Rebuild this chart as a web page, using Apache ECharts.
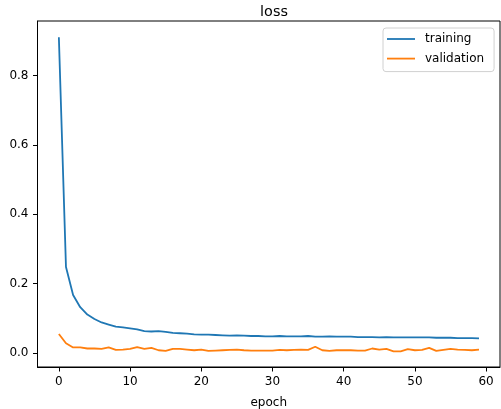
<!DOCTYPE html>
<html>
<head>
<meta charset="utf-8">
<script src="https://cdn.jsdelivr.net/npm/echarts@6/dist/echarts.min.js"></script>
<style>html,body{margin:0;padding:0;background:#fff}#c{width:501px;height:409px}</style>
</head>
<body>
<div id="c"></div>
<script>
const epochs = Array.from({length: 60}, (_, i) => i);
const training = [0.910, 0.248, 0.167, 0.132, 0.111, 0.098, 0.088, 0.082, 0.076, 0.074,
  0.071, 0.068, 0.063, 0.062, 0.063, 0.061, 0.058, 0.057, 0.056, 0.054,
  0.053, 0.053, 0.052, 0.051, 0.050, 0.051, 0.050, 0.049, 0.049, 0.048,
  0.048, 0.049, 0.048, 0.048, 0.048, 0.049, 0.047, 0.047, 0.048, 0.047,
  0.047, 0.047, 0.046, 0.046, 0.046, 0.045, 0.046, 0.045, 0.045, 0.045,
  0.045, 0.045, 0.045, 0.044, 0.044, 0.044, 0.043, 0.043, 0.043, 0.042];
const validation = [0.055, 0.028, 0.016, 0.016, 0.013, 0.013, 0.012, 0.016, 0.009, 0.010,
  0.012, 0.017, 0.012, 0.015, 0.008, 0.006, 0.012, 0.012, 0.010, 0.008,
  0.010, 0.006, 0.007, 0.008, 0.009, 0.010, 0.008, 0.007, 0.007, 0.007,
  0.007, 0.009, 0.008, 0.009, 0.010, 0.009, 0.018, 0.008, 0.006, 0.008,
  0.008, 0.008, 0.007, 0.007, 0.013, 0.010, 0.012, 0.005, 0.005, 0.011,
  0.008, 0.009, 0.015, 0.006, 0.009, 0.012, 0.010, 0.009, 0.008, 0.010];
const xTicks = [0, 10, 20, 30, 40, 50, 60];
const yTicks = [0.0, 0.2, 0.4, 0.6, 0.8];
const titleText = 'loss';
const xName = 'epoch';
const seriesNames = ['training', 'validation'];

const font = 'DejaVu Sans';
const chart = echarts.init(document.getElementById('c'), null, {renderer: 'canvas'});
chart.setOption({
  animation: false,
  title: {
    text: titleText, left: 269, top: 0, textAlign: 'center',
    textStyle: {fontFamily: font, fontSize: 14.4, fontWeight: 'normal', color: '#000'}
  },
  legend: {
    orient: 'vertical', left: 383, top: 28,
    icon: 'rect',
    itemWidth: 28, itemHeight: 1.8, itemGap: 5.6,
    padding: [4, 10, 6, 4],
    backgroundColor: 'rgba(255,255,255,0.8)',
    borderColor: '#d0d0d0', borderWidth: 1, borderRadius: 3,
    textStyle: {fontFamily: font, fontSize: 12, color: '#000', lineHeight: 14, padding: [0, 0, 0, 5]},
    data: seriesNames
  },
  grid: {
    left: 37.5, right: 1, top: 21, bottom: 42,
    outerBoundsMode: 'none',
    show: true, borderColor: '#000', borderWidth: 1, backgroundColor: 'transparent'
  },
  xAxis: {
    type: 'value', min: -3.0, max: 61.95,
    name: xName, nameLocation: 'middle', nameGap: 30,
    nameTextStyle: {fontFamily: font, fontSize: 12, color: '#000'},
    axisLine: {onZero: false, lineStyle: {color: '#000', width: 1}},
    axisTick: {show: true, length: 4.5, customValues: xTicks, lineStyle: {color: '#000'}},
    axisLabel: {customValues: xTicks, margin: 9, fontFamily: font, fontSize: 12, color: '#000',
      formatter: v => String(Math.round(v))},
    splitLine: {show: false}
  },
  yAxis: {
    type: 'value', min: -0.0403, max: 0.957,
    axisLine: {show: true, onZero: false, lineStyle: {color: '#000', width: 1}},
    axisTick: {show: true, length: 4.5, customValues: yTicks, lineStyle: {color: '#000'}},
    axisLabel: {customValues: yTicks, margin: 9, fontFamily: font, fontSize: 12, color: '#000',
      formatter: v => v.toFixed(1)},
    splitLine: {show: false}
  },
  series: [
    {name: seriesNames[0], type: 'line', symbol: 'none', color: '#1f77b4',
     lineStyle: {width: 1.8, color: '#1f77b4'},
     data: epochs.map((e, i) => [e, training[i]])},
    {name: seriesNames[1], type: 'line', symbol: 'none', color: '#ff7f0e',
     lineStyle: {width: 1.8, color: '#ff7f0e'},
     data: epochs.map((e, i) => [e, validation[i]])}
  ]
});
</script>
</body>
</html>
